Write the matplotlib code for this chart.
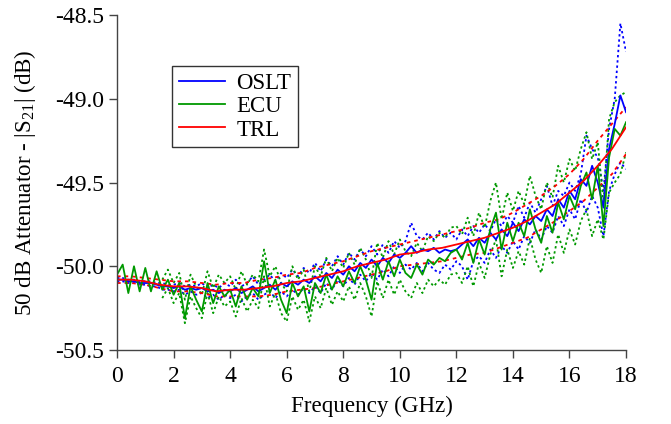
import numpy as np
import matplotlib
matplotlib.use("Agg")
import matplotlib.pyplot as plt

plt.rcParams['font.family'] = ['Liberation Serif', 'DejaVu Serif']
plt.rcParams['mathtext.fontset'] = 'custom'
plt.rcParams['mathtext.rm'] = 'Liberation Serif'
plt.rcParams['mathtext.it'] = 'Liberation Serif:italic'

# siatka czestotliwosci (GHz)
freq = np.round(np.arange(0, 18.001, 0.2), 1)
freq_band = np.round(np.arange(1.6, 18.001, 0.2), 1)
freq_trl = np.round(np.arange(0, 18.001, 0.5), 1)

# TRL - linia ciagla i granice (kropkowane)
trl = [-50.08, -50.08, -50.09, -50.11, -50.12, -50.12, -50.13, -50.15, -50.14, -50.14,
       -50.13, -50.12, -50.10, -50.09, -50.07, -50.05, -50.03, -50.00, -49.98, -49.96,
       -49.93, -49.92, -49.90, -49.89, -49.87, -49.85, -49.83, -49.80, -49.77, -49.73,
       -49.68, -49.63, -49.56, -49.49, -49.40, -49.30, -49.17]
trl_gora = [-50.06, -50.06, -50.07, -50.08, -50.09, -50.09, -50.10, -50.11, -50.10, -50.10,
            -50.08, -50.07, -50.05, -50.04, -50.01, -49.99, -49.97, -49.94, -49.91, -49.89,
            -49.87, -49.85, -49.83, -49.81, -49.79, -49.77, -49.74, -49.72, -49.68, -49.63,
            -49.58, -49.52, -49.45, -49.36, -49.25, -49.15, -49.05]
trl_dol = [-50.10, -50.10, -50.11, -50.13, -50.15, -50.15, -50.16, -50.18, -50.18, -50.18,
           -50.18, -50.17, -50.15, -50.14, -50.13, -50.11, -50.09, -50.07, -50.05, -50.03,
           -50.00, -49.99, -49.98, -49.97, -49.95, -49.93, -49.92, -49.89, -49.86, -49.83,
           -49.78, -49.73, -49.67, -49.61, -49.53, -49.45, -49.33]

# OSLT
oslt = [-50.08, -50.08, -50.09, -50.09, -50.10, -50.10, -50.10, -50.11, -50.12, -50.12,
        -50.13, -50.12, -50.14, -50.13, -50.14, -50.13, -50.15, -50.14, -50.16, -50.14,
        -50.15, -50.13, -50.16, -50.14, -50.12, -50.15, -50.13, -50.11, -50.14, -50.10,
        -50.12, -50.09, -50.11, -50.08, -50.10, -50.06, -50.09, -50.04, -50.07, -50.02,
        -50.05, -50.00, -50.03, -49.98, -50.01, -49.96, -50.00, -49.95, -49.98, -49.93,
        -49.95, -49.92, -49.88, -49.92, -49.90, -49.91, -49.89, -49.92, -49.90, -49.91,
        -49.90, -49.87, -49.84, -49.88, -49.83, -49.86, -49.80, -49.84, -49.78, -49.82,
        -49.74, -49.79, -49.72, -49.75, -49.70, -49.73, -49.66, -49.70, -49.60, -49.65,
        -49.55, -49.60, -49.48, -49.52, -49.40, -49.50, -49.65, -49.30, -49.15, -48.98,
        -49.08]
oslt_gora = [-50.07, -50.07, -50.08, -50.08, -50.09, -50.09, -50.09, -50.10, -50.10, -50.11,
             -50.11, -50.10, -50.12, -50.11, -50.12, -50.10, -50.13, -50.11, -50.13, -50.10,
             -50.12, -50.08, -50.12, -50.10, -50.06, -50.11, -50.08, -50.05, -50.09, -50.04,
             -50.07, -50.02, -50.06, -50.01, -50.04, -49.98, -50.03, -49.96, -50.00, -49.94,
             -49.99, -49.92, -49.96, -49.90, -49.94, -49.88, -49.93, -49.87, -49.92, -49.85,
             -49.89, -49.85, -49.74, -49.82, -49.84, -49.80, -49.84, -49.79, -49.83, -49.80,
             -49.84, -49.78, -49.82, -49.76, -49.80, -49.75, -49.79, -49.72, -49.76, -49.70,
             -49.74, -49.64, -49.71, -49.62, -49.68, -49.60, -49.52, -49.64, -49.55, -49.58,
             -49.50, -49.55, -49.45, -49.22, -49.30, -49.35, -49.55, -49.18, -49.00, -48.55,
             -48.72]
oslt_dol = [-50.09, -50.09, -50.10, -50.10, -50.11, -50.11, -50.12, -50.12, -50.14, -50.14,
            -50.15, -50.14, -50.17, -50.15, -50.17, -50.16, -50.19, -50.17, -50.20, -50.17,
            -50.19, -50.17, -50.21, -50.18, -50.16, -50.20, -50.17, -50.15, -50.19, -50.15,
            -50.18, -50.14, -50.17, -50.13, -50.16, -50.12, -50.16, -50.10, -50.14, -50.08,
            -50.12, -50.07, -50.11, -50.05, -50.09, -50.04, -50.08, -50.02, -50.06, -50.00,
            -50.04, -49.99, -50.02, -49.98, -50.03, -49.98, -50.02, -50.04, -49.99, -50.02,
            -49.97, -50.00, -50.08, -49.97, -49.94, -49.98, -49.90, -49.95, -49.88, -49.92,
            -49.85, -49.90, -49.82, -49.86, -49.78, -49.84, -49.76, -49.80, -49.70, -49.76,
            -49.66, -49.72, -49.60, -49.68, -49.58, -49.65, -49.82, -49.55, -49.45, -49.38,
            -49.42]

# ECU
ecu = [-50.05, -49.99, -50.16, -50.00, -50.15, -50.01, -50.15, -50.03, -50.14, -50.08,
       -50.17, -50.10, -50.31, -50.12, -50.20, -50.27, -50.10, -50.22, -50.12, -50.18,
       -50.14, -50.24, -50.12, -50.20, -50.13, -50.18, -49.97, -50.16, -50.08, -50.20,
       -50.28, -50.10, -50.18, -50.12, -50.27, -50.10, -50.16, -50.05, -50.14, -50.06,
       -50.12, -50.03, -50.10, -50.00, -50.08, -50.20, -49.98, -50.08, -49.97, -50.06,
       -49.96, -50.04, -50.07, -49.99, -50.05, -49.96, -49.99, -49.95, -49.97, -49.92,
       -49.90, -49.96, -49.86, -49.98, -49.84, -49.93, -49.78, -49.68, -49.90, -49.74,
       -49.85, -49.74, -49.82, -49.66, -49.78, -49.86, -49.70, -49.80, -49.62, -49.72,
       -49.58, -49.66, -49.52, -49.44, -49.60, -49.40, -49.76, -49.35, -49.18, -49.22,
       -49.14]
ecu_gora = [-50.08, -50.02, -50.10, -50.04, -50.20, -50.05, -50.12, -50.17, -50.03, -50.13,
            -50.05, -50.10, -50.06, -50.14, -50.03, -50.11, -50.05, -50.09, -49.90, -50.06,
            -50.00, -50.10, -50.15, -50.00, -50.08, -50.02, -50.15, -50.00, -50.06, -49.95,
            -50.03, -49.95, -50.01, -49.92, -49.99, -49.89, -49.96, -50.07, -49.86, -49.95,
            -49.85, -49.93, -49.84, -49.91, -49.94, -49.86, -49.91, -49.82, -49.85, -49.80,
            -49.83, -49.77, -49.76, -49.81, -49.71, -49.82, -49.68, -49.77, -49.61, -49.50,
            -49.72, -49.56, -49.67, -49.55, -49.63, -49.46, -49.58, -49.66, -49.50, -49.59,
            -49.40, -49.50, -49.36, -49.43, -49.30, -49.20, -49.36, -49.26, -49.62, -49.12,
            -49.02, -48.98, -48.96]
ecu_dol = [-50.19, -50.13, -50.22, -50.16, -50.34, -50.18, -50.25, -50.31, -50.16, -50.28,
           -50.18, -50.24, -50.21, -50.30, -50.19, -50.27, -50.20, -50.25, -50.06, -50.24,
           -50.16, -50.28, -50.33, -50.18, -50.26, -50.20, -50.33, -50.18, -50.25, -50.13,
           -50.23, -50.15, -50.21, -50.12, -50.20, -50.10, -50.18, -50.30, -50.09, -50.19,
           -50.08, -50.17, -50.08, -50.15, -50.19, -50.10, -50.16, -50.08, -50.12, -50.08,
           -50.11, -50.05, -50.04, -50.10, -50.00, -50.12, -49.98, -50.07, -49.93, -49.84,
           -50.06, -49.90, -50.01, -49.91, -49.99, -49.83, -49.96, -50.04, -49.88, -49.98,
           -49.81, -49.92, -49.78, -49.87, -49.73, -49.66, -49.82, -49.72, -49.84, -49.56,
           -49.50, -49.45, -49.32]

fig, ax = plt.subplots(figsize=(6.71, 4.24), dpi=100)
fig.subplots_adjust(left=0.1744, right=0.933, bottom=0.1745, top=0.9646)

kropki = (0, (1.3, 1.6))
lw = 1.3

# granice (kropkowane)
ax.plot(freq, oslt_gora, color='#0000ff', ls=kropki, lw=lw)
ax.plot(freq, oslt_dol, color='#0000ff', ls=kropki, lw=lw)
ax.plot(freq_band, ecu_gora, color='#009900', ls=kropki, lw=lw)
ax.plot(freq_band, ecu_dol, color='#009900', ls=kropki, lw=lw)
ax.plot(freq_trl, trl_gora, color='#ff0000', ls=(0, (2.0, 2.2)), lw=lw)
ax.plot(freq_trl, trl_dol, color='#ff0000', ls=(0, (2.0, 2.2)), lw=lw)

# linie ciagle
ax.plot(freq, oslt, color='#0000ff', lw=lw, label='OSLT')
ax.plot(freq, ecu, color='#009900', lw=lw, label='ECU')
ax.plot(freq_trl, trl, color='#ff0000', lw=lw, label='TRL')

ax.set_xlim(0, 18)
ax.set_ylim(-50.5, -48.5)
ax.set_xticks(np.arange(0, 19, 2))
ax.set_yticks([-50.5, -50.0, -49.5, -49.0, -48.5])
ax.set_yticklabels(['-50.5', '-50.0', '-49.5', '-49.0', '-48.5'])

for s in ['top', 'right']:
    ax.spines[s].set_visible(False)
for s in ['left', 'bottom']:
    ax.spines[s].set_color('#444444')
    ax.spines[s].set_linewidth(1.0)
ax.tick_params(direction='out', length=5.5, width=1.0, color='#444444', labelsize=17)
ax.tick_params(axis='x', pad=6)
ax.tick_params(axis='y', pad=4)

ax.set_xlabel('Frequency (GHz)', fontsize=16.6, labelpad=6)
ax.set_ylabel(r'50 dB Attenuator - |S$_{21}$| (dB)', fontsize=16.6, labelpad=12)

leg = ax.legend(loc='upper left', bbox_to_anchor=(0.108, 0.848), borderaxespad=0,
                fontsize=16.5, frameon=True, fancybox=False, edgecolor='black',
                handlelength=2.0, labelspacing=0.1, borderpad=0.3,
                handletextpad=0.5)
leg.get_frame().set_linewidth(1.0)

plt.savefig('out.png', dpi=100)
plt.close()
